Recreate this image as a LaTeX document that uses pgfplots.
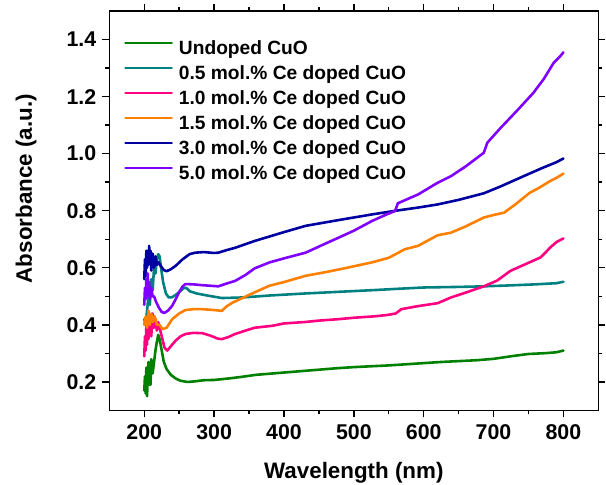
\documentclass[border=0pt]{standalone}
\usepackage{fontspec}
\setmainfont{Liberation Sans}
\usepackage{pgfplots}
\pgfplotsset{compat=1.18}
\definecolor{cgreen}{RGB}{0,128,0}
\definecolor{cteal}{RGB}{0,128,128}
\definecolor{cpink}{RGB}{255,0,128}
\definecolor{corange}{RGB}{255,128,0}
\definecolor{cnavy}{RGB}{0,0,160}
\definecolor{cviolet}{RGB}{128,0,255}
\begin{document}
\begin{tikzpicture}
\begin{axis}[
  scale only axis, width=492pt, height=402pt,
  xmin=150, xmax=850, ymin=0.1, ymax=1.5,
  xtick={200,300,400,500,600,700,800},
  ytick={0.2,0.4,0.6,0.8,1.0,1.2,1.4},
  minor x tick num=1, minor y tick num=1,
  tick align=outside, major tick length=7pt, minor tick length=4pt,
  axis line style={line width=1.6pt},
  every tick/.style={line width=1.4pt, black},
  /pgf/number format/assume math mode=true,
  tick label style={font=\fontsize{21.5}{21.5}\selectfont\bfseries, inner sep=0pt},
  yticklabel style={xshift=-6pt, /pgf/number format/.cd, fixed, fixed zerofill, precision=1},
  xticklabel style={yshift=-7pt, /pgf/number format/1000 sep={}},
  xlabel={Wavelength (nm)}, ylabel={Absorbance (a.u.)},
  label style={font=\fontsize{22.5}{22.5}\selectfont\bfseries, inner sep=0pt},
  xlabel style={at={(axis description cs:0.5,-0.1294)}, anchor=north},
  ylabel style={at={(axis description cs:-0.1484,0.555)}, anchor=south},
  legend cell align=left,
  legend style={draw=none, fill=none, at={(rel axis cs:0.03,0.925)}, anchor=north west,
    inner sep=0pt, row sep=7.3pt, column sep=6pt,
    font=\fontsize{19.3}{19.3}\selectfont\bfseries,
    nodes={inner sep=0pt, text height=13.8pt, text depth=4pt}},
  legend image code/.code={\draw[#1, line width=2.6pt] (0pt,6.9pt) -- (46.5pt,6.9pt);},
  every axis plot/.append style={line width=2.6pt, line join=round, line cap=round, mark=none},
]
\addplot[cgreen] coordinates {
(200,0.17)(201,0.22)(202,0.16)(203,0.25)(204,0.15)(205,0.22)(206,0.27)(207,0.19)(208,0.24)(209,0.19)(210,0.28)(212,0.23)(214,0.27)(216,0.31)(218,0.34)(220,0.365)(222,0.35)(225,0.31)(228,0.27)(232,0.245)(238,0.225)(245,0.212)(252,0.204)(262,0.200)(272,0.202)(285,0.206)(300,0.207)(320,0.212)(340,0.218)(360,0.225)(380,0.229)(400,0.233)(425,0.238)(450,0.243)(475,0.248)(500,0.252)(525,0.255)(550,0.258)(575,0.262)(600,0.266)(625,0.270)(650,0.273)(675,0.276)(700,0.281)(725,0.290)(750,0.298)(775,0.301)(790,0.304)(800,0.31)
};
\addlegendentry{Undoped CuO}
\addplot[cteal] coordinates {
(200,0.42)(202,0.40)(204,0.45)(206,0.50)(208,0.47)(210,0.56)(212,0.52)(214,0.60)(216,0.58)(218,0.63)(220,0.648)(222,0.64)(224,0.60)(227,0.55)(231,0.51)(235,0.496)(240,0.497)(245,0.505)(250,0.515)(256,0.528)(260,0.530)(265,0.518)(275,0.510)(290,0.503)(311,0.494)(340,0.496)(380,0.503)(430,0.510)(480,0.516)(530,0.522)(560,0.526)(600,0.531)(650,0.533)(686,0.535)(720,0.538)(760,0.542)(790,0.546)(800,0.551)
};
\addlegendentry{0.5 mol.\% Ce doped CuO}
\addplot[cpink] coordinates {
(200,0.29)(201,0.36)(202,0.31)(203,0.40)(204,0.33)(205,0.42)(206,0.35)(207,0.43)(208,0.37)(209,0.42)(210,0.36)(212,0.44)(214,0.39)(216,0.42)(218,0.38)(220,0.41)(222,0.39)(225,0.36)(229,0.32)(233,0.31)(238,0.325)(245,0.345)(252,0.36)(259,0.368)(270,0.372)(283,0.371)(295,0.362)(305,0.352)(311,0.35)(320,0.357)(330,0.368)(345,0.38)(358,0.39)(384,0.397)(400,0.405)(430,0.41)(450,0.415)(478,0.42)(500,0.425)(530,0.43)(549,0.435)(560,0.44)(568,0.455)(590,0.465)(620,0.476)(639,0.496)(660,0.513)(686,0.535)(705,0.555)(724,0.589)(745,0.612)(767,0.636)(775,0.655)(781,0.671)(790,0.69)(800,0.703)
};
\addlegendentry{1.0 mol.\% Ce doped CuO}
\addplot[corange] coordinates {
(200,0.40)(202,0.43)(204,0.39)(206,0.45)(208,0.40)(210,0.44)(212,0.41)(215,0.43)(218,0.40)(222,0.40)(226,0.385)(232,0.39)(240,0.42)(250,0.44)(259,0.452)(270,0.455)(283,0.455)(300,0.452)(311,0.449)(318,0.465)(325,0.476)(337,0.49)(358,0.514)(379,0.537)(400,0.55)(431,0.572)(460,0.585)(490,0.60)(526,0.619)(550,0.635)(573,0.665)(592,0.677)(620,0.714)(639,0.723)(660,0.745)(686,0.776)(700,0.785)(715,0.793)(730,0.82)(752,0.863)(765,0.88)(781,0.904)(790,0.915)(800,0.93)
};
\addlegendentry{1.5 mol.\% Ce doped CuO}
\addplot[cnavy] coordinates {
(200,0.56)(201,0.63)(202,0.57)(203,0.66)(204,0.60)(205,0.65)(206,0.61)(207,0.677)(208,0.62)(209,0.66)(210,0.59)(212,0.65)(214,0.60)(216,0.64)(218,0.61)(220,0.62)(224,0.605)(228,0.592)(232,0.588)(238,0.595)(245,0.607)(255,0.63)(265,0.648)(273,0.653)(285,0.655)(300,0.652)(306,0.653)(318,0.662)(330,0.67)(358,0.694)(400,0.725)(431,0.747)(480,0.768)(526,0.787)(560,0.80)(592,0.811)(620,0.822)(650,0.838)(686,0.861)(710,0.885)(743,0.921)(770,0.95)(790,0.97)(800,0.983)
};
\addlegendentry{3.0 mol.\% Ce doped CuO}
\addplot[cviolet] coordinates {
(200,0.47)(201,0.53)(202,0.49)(203,0.56)(204,0.50)(205,0.58)(206,0.51)(207,0.55)(208,0.49)(210,0.53)(212,0.50)(214,0.50)(217,0.48)(221,0.46)(225,0.445)(229,0.442)(234,0.45)(240,0.467)(245,0.49)(250,0.515)(255,0.535)(259,0.543)(270,0.542)(283,0.539)(295,0.537)(306,0.535)(318,0.545)(330,0.554)(345,0.575)(358,0.598)(379.5,0.619)(400,0.633)(431,0.653)(455,0.68)(478.6,0.706)(500,0.73)(526,0.764)(545,0.785)(559,0.799)(563,0.826)(592,0.857)(620,0.898)(639,0.921)(660,0.955)(686,1.003)(691,1.038)(710,1.09)(733,1.149)(757,1.213)(772,1.262)(786,1.318)(795,1.34)(800,1.355)
};
\addlegendentry{5.0 mol.\% Ce doped CuO}
\end{axis}
\path (-110pt,-74pt) rectangle (497pt,413pt);
\end{tikzpicture}
\end{document}
